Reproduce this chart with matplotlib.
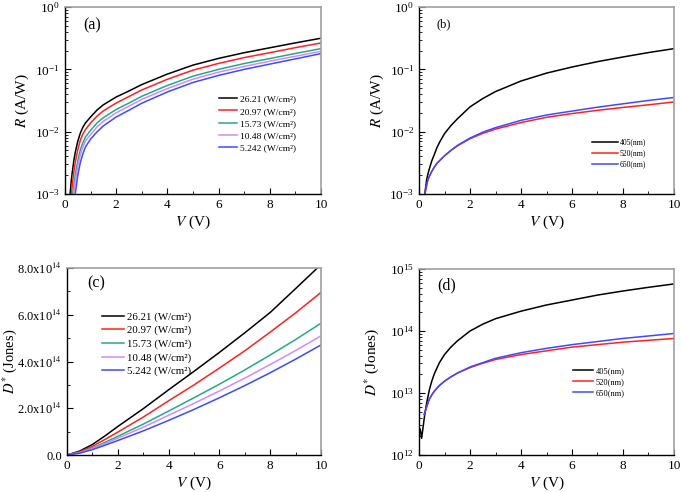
import numpy as np
import matplotlib
matplotlib.use('Agg')
import matplotlib.pyplot as plt
from matplotlib.ticker import LogLocator, NullFormatter, MultipleLocator, FuncFormatter

plt.rcParams['font.family'] = ['Liberation Serif', 'DejaVu Serif']
plt.rcParams['mathtext.fontset'] = 'stix'

# bias voltage grids
v_ab = [0.2, 0.25, 0.3, 0.35, 0.4, 0.5, 0.6, 0.7, 0.8, 1.0, 1.25, 1.5, 2, 2.5, 3, 4, 5, 6, 7, 8, 9, 10]
v_c = [0, 0.5, 1, 1.5, 2, 3, 4, 5, 6, 7, 8, 9, 10]
v_d_black = [0.05, 0.1, 0.15, 0.2, 0.25, 0.3, 0.4, 0.5, 0.6, 0.8, 1.0, 1.25, 1.5, 2, 2.5, 3, 4, 5, 6, 7, 8, 9, 10]
v_d = [0.2, 0.3, 0.4, 0.5, 0.6, 0.8, 1.0, 1.25, 1.5, 2, 2.5, 3, 4, 5, 6, 7, 8, 9, 10]

power_labels = ['26.21 (W/cm²)', '20.97 (W/cm²)', '15.73 (W/cm²)',
                '10.48 (W/cm²)', '5.242 (W/cm²)']
power_colors = ['#000000', '#ff2020', '#25a886', '#d48af5', '#3a4cff']
wl_labels = ['405(nm)', '520(nm)', '650(nm)']
wl_colors = ['#000000', '#ff2020', '#3a4cff']

# (a) responsivity (A/W) for 5 power densities
R_a = [
    [0.0010, 0.0017, 0.0025, 0.0035, 0.0046, 0.0070, 0.0095, 0.0118, 0.0138, 0.0172, 0.0222, 0.027,
     0.036, 0.045, 0.057, 0.084, 0.117, 0.150, 0.185, 0.222, 0.266, 0.316],
    [0.0005, 0.0010, 0.0016, 0.0023, 0.0032, 0.0051, 0.0073, 0.0092, 0.0108, 0.0138, 0.0177, 0.0216,
     0.0288, 0.0367, 0.0467, 0.0693, 0.0971, 0.1245, 0.1545, 0.185, 0.223, 0.265],
    [0.0003, 0.0007, 0.0010, 0.0014, 0.0020, 0.0034, 0.0051, 0.0066, 0.0082, 0.0105, 0.0138, 0.0168,
     0.0227, 0.0288, 0.037, 0.0552, 0.0777, 0.100, 0.124, 0.149, 0.180, 0.215],
    [0.0002, 0.0004, 0.0008, 0.0011, 0.0016, 0.0028, 0.0042, 0.0057, 0.0071, 0.0090, 0.0119, 0.0147,
     0.0201, 0.0257, 0.033, 0.0492, 0.0696, 0.0903, 0.1116, 0.1353, 0.1624, 0.195],
    [0.0001, 0.0002, 0.0004, 0.0007, 0.0010, 0.0020, 0.0032, 0.0044, 0.0057, 0.0076, 0.0099, 0.0124,
     0.0172, 0.0221, 0.0286, 0.0434, 0.0616, 0.080, 0.100, 0.1215, 0.1473, 0.179],
]

# (b) responsivity (A/W) for 3 wavelengths
R_b = [
    [0.0008, 0.0012, 0.0017, 0.0021, 0.0025, 0.0034, 0.0043, 0.0055, 0.0067, 0.0093, 0.0125, 0.016,
     0.025, 0.034, 0.044, 0.065, 0.087, 0.109, 0.133, 0.158, 0.186, 0.215],
    [0.0007, 0.0011, 0.0014, 0.0017, 0.0019, 0.0023, 0.0027, 0.0031, 0.0034, 0.0041, 0.0050, 0.0059,
     0.0077, 0.0094, 0.0110, 0.0140, 0.0170, 0.0195, 0.022, 0.0245, 0.027, 0.030],
    [0.0007, 0.0011, 0.0014, 0.0017, 0.0019, 0.0023, 0.0027, 0.0031, 0.0034, 0.0041, 0.0050, 0.0060,
     0.0079, 0.0098, 0.0116, 0.0152, 0.0185, 0.0214, 0.0247, 0.028, 0.0317, 0.0354],
]

# (c) detectivity in units of 1e14 Jones
D_c = [
    [0, 0.17, 0.45, 0.82, 1.22, 1.98, 2.79, 3.58, 4.39, 5.23, 6.10, 7.12, 8.15],
    [0, 0.14, 0.37, 0.67, 0.98, 1.62, 2.32, 3.00, 3.72, 4.46, 5.26, 6.08, 6.96],
    [0, 0.11, 0.30, 0.54, 0.80, 1.32, 1.88, 2.45, 3.03, 3.64, 4.28, 4.94, 5.64],
    [0, 0.10, 0.27, 0.49, 0.72, 1.19, 1.70, 2.21, 2.74, 3.29, 3.87, 4.47, 5.10],
    [0, 0.08, 0.23, 0.42, 0.62, 1.03, 1.48, 1.95, 2.45, 2.97, 3.52, 4.10, 4.71],
]

# (d) detectivity (Jones)
D_d_black = [2.6e12, 1.86e12, 2.6e12, 3.8e12, 5.2e12, 6.9e12, 1.1e13, 1.55e13, 2.04e13, 3.09e13, 4.17e13,
             5.5e13, 6.9e13, 1.0e14, 1.29e14, 1.58e14, 2.09e14, 2.63e14, 3.16e14, 3.8e14, 4.42e14, 5.07e14, 5.75e14]
D_d_red = [4.5e12, 6.0e12, 7.9e12, 9.3e12, 1.07e13, 1.32e13, 1.55e13, 1.82e13, 2.09e13, 2.57e13,
           3.02e13, 3.47e13, 4.17e13, 4.79e13, 5.5e13, 6.03e13, 6.61e13, 7.08e13, 7.59e13]
D_d_blue = [4.5e12, 6.0e12, 7.9e12, 9.3e12, 1.07e13, 1.32e13, 1.55e13, 1.82e13, 2.09e13, 2.63e13,
            3.09e13, 3.63e13, 4.47e13, 5.25e13, 6.03e13, 6.76e13, 7.59e13, 8.32e13, 9.12e13]

fig = plt.figure(figsize=(6.81, 4.92), dpi=100)
ax_a = fig.add_axes([0.0954, 0.6057, 0.376, 0.380])
ax_b = fig.add_axes([0.6153, 0.6057, 0.3744, 0.380])
ax_c = fig.add_axes([0.0984, 0.0752, 0.373, 0.380])
ax_d = fig.add_axes([0.6153, 0.0752, 0.3744, 0.378])


def style(ax, logy):
    for s in ['top', 'right']:
        ax.spines[s].set_color('#a0a0a0')
        ax.spines[s].set_linewidth(1.2)
    for s in ['left', 'bottom']:
        ax.spines[s].set_linewidth(1.0)
    ax.tick_params(which='both', direction='in', top=False, right=False, labelsize=9.5)
    ax.tick_params(which='major', length=4)
    ax.tick_params(which='minor', length=2)
    ax.set_xlim(0, 10)
    ax.xaxis.set_major_locator(MultipleLocator(2))
    ax.xaxis.set_minor_locator(MultipleLocator(1))
    if logy:
        ax.set_yscale('log')
        ax.yaxis.set_major_locator(LogLocator(base=10, numticks=10))
        ax.yaxis.set_minor_locator(LogLocator(base=10, subs=np.arange(2, 10), numticks=20))
        ax.yaxis.set_minor_formatter(NullFormatter())
    ax.set_xlabel('$V$ (V)', fontsize=11, labelpad=2)


def leg(ax, x, y, size, hl, ls):
    ax.legend(loc='upper left', bbox_to_anchor=(x, y), frameon=False, fontsize=size,
              handlelength=hl, handletextpad=0.3, borderpad=0, borderaxespad=0,
              labelspacing=ls)


for vals, c, lab in zip(R_a, power_colors, power_labels):
    ax_a.plot(v_ab, vals, color=c, lw=1.1, label=lab)
style(ax_a, True)
ax_a.set_ylim(1e-3, 1)
ax_a.set_ylabel('$R$ (A/W)', fontsize=11)
ax_a.yaxis.set_label_coords(-0.133, 0.5)
leg(ax_a, 0.6, 0.53, 6.8, 2.0, 0.38)
ax_a.text(0.07, 0.9, '(a)', transform=ax_a.transAxes, fontsize=11.5, va='center')

for vals, c, lab in zip(R_b, wl_colors, wl_labels):
    ax_b.plot(v_ab, vals, color=c, lw=1.1, label=lab)
style(ax_b, True)
ax_b.set_ylim(1e-3, 1)
ax_b.set_ylabel('$R$ (A/W)', fontsize=11)
ax_b.yaxis.set_label_coords(-0.13, 0.5)
leg(ax_b, 0.68, 0.297, 5.5, 3.3, 0.4)
ax_b.text(0.067, 0.91, '(b)', transform=ax_b.transAxes, fontsize=9, va='center')

for vals, c, lab in zip(D_c, power_colors, power_labels):
    ax_c.plot(v_c, np.array(vals) * 1e14, color=c, lw=1.1, label=lab)
style(ax_c, False)
ax_c.set_ylim(0, 8e14)
ax_c.yaxis.set_major_locator(MultipleLocator(2e14))
ax_c.yaxis.set_minor_locator(MultipleLocator(1e14))
ax_c.yaxis.set_major_formatter(FuncFormatter(
    lambda y, p: '0.0' if y == 0 else '%.1fx10$^{14}$' % (y / 1e14)))
ax_c.tick_params(axis='y', labelsize=9)
ax_c.set_ylabel('$D^{*}$ (Jones)', fontsize=10.5)
ax_c.yaxis.set_label_coords(-0.19, 0.5)
leg(ax_c, 0.138, 0.765, 7.8, 2.0, 0.35)
ax_c.text(0.079, 0.92, '(c)', transform=ax_c.transAxes, fontsize=11.5, va='center')

ax_d.plot(v_d_black, D_d_black, color=wl_colors[0], lw=1.1, label=wl_labels[0])
ax_d.plot(v_d, D_d_red, color=wl_colors[1], lw=1.1, label=wl_labels[1])
ax_d.plot(v_d, D_d_blue, color=wl_colors[2], lw=1.1, label=wl_labels[2])
style(ax_d, True)
ax_d.set_ylim(1e12, 1e15)
ax_d.set_ylabel('$D^{*}$ (Jones)', fontsize=11)
ax_d.yaxis.set_label_coords(-0.15, 0.5)
leg(ax_d, 0.604, 0.473, 6.0, 2.4, 0.35)
ax_d.text(0.07, 0.91, '(d)', transform=ax_d.transAxes, fontsize=11.5, va='center')

fig.savefig('out.png', dpi=100)
